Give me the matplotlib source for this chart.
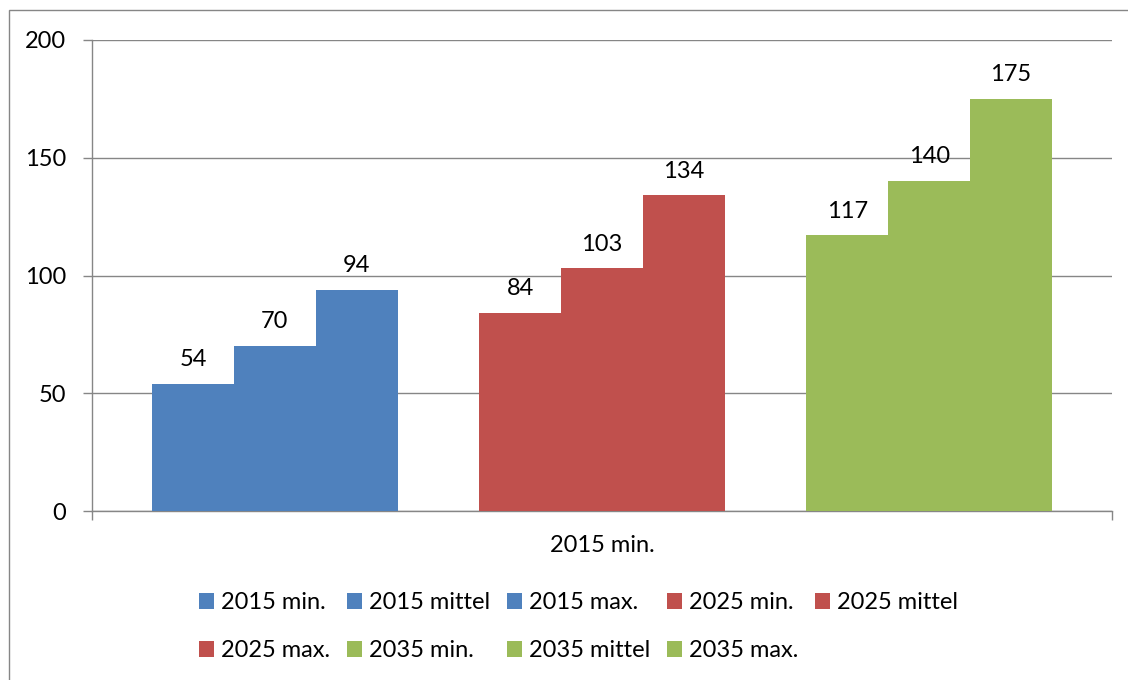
import matplotlib.pyplot as plt
from matplotlib.patches import Patch, Rectangle

# series of the chart (one category, nine series)
category = "2015 min."
series_names = ["2015 min.", "2015 mittel", "2015 max.",
                "2025 min.", "2025 mittel", "2025 max.",
                "2035 min.", "2035 mittel", "2035 max."]
values = [54, 70, 94, 84, 103, 134, 117, 140, 175]
series_colors = ["#4F81BD"] * 3 + ["#C0504D"] * 3 + ["#9BBB59"] * 3

# bar slots: three groups of three, one empty slot between groups
slots = [0, 1, 2, 4, 5, 6, 8, 9, 10]

FS = 17
plt.rcParams['font.family'] = ['Lato', 'DejaVu Sans']
W, H = 1128, 680
fig = plt.figure(figsize=(W / 100, H / 100), dpi=100, facecolor='white')

# outer chart border
fig.patches.append(Rectangle((9 / W, -0.01), 1.2, 1 - 10 / H + 0.01,
                             transform=fig.transFigure, fill=False,
                             edgecolor='#868686', lw=1.0))

ax = fig.add_axes([92 / W, 1 - 511 / H, (1112 - 92) / W, (511 - 40) / H])

bars = ax.bar(slots, values, width=1.0, color=series_colors, zorder=3)
ax.bar_label(bars, padding=10, fontsize=FS)

ax.set_xlim(-1.235, 11.235)
ax.set_ylim(0, 200)
ax.set_yticks([0, 50, 100, 150, 200])
ax.yaxis.grid(True, color='#868686', lw=1.0, zorder=0)
ax.tick_params(axis='y', length=6.5, width=1.0, color='#868686',
               labelsize=FS, pad=12)

# category label in the middle, tick marks at both ends
ax.set_xticks([5], labels=[category])
ax.set_xticks([-1.235, 11.235], minor=True)
ax.tick_params(axis='x', which='major', length=0, labelsize=FS, pad=17)
ax.tick_params(axis='x', which='minor', length=6.5, width=1.0, color='#868686')

for s in ['top', 'right']:
    ax.spines[s].set_visible(False)
for s in ['left', 'bottom']:
    ax.spines[s].set_color('#868686')
    ax.spines[s].set_linewidth(1.0)

# legend filled row by row
handles = [Patch(facecolor=c, edgecolor='none') for c in series_colors]
order = [0, 5, 1, 6, 2, 7, 3, 8, 4]
fig.legend([handles[i] for i in order], [series_names[i] for i in order],
           ncol=5, loc='upper left', bbox_to_anchor=(199 / W, 1 - 592 / H),
           frameon=False, fontsize=FS, handlelength=0.64, handleheight=0.64,
           handletextpad=0.3, columnspacing=0.7, labelspacing=1.16,
           borderpad=0, borderaxespad=0)

fig.savefig('out.png', dpi=100, facecolor='white')
